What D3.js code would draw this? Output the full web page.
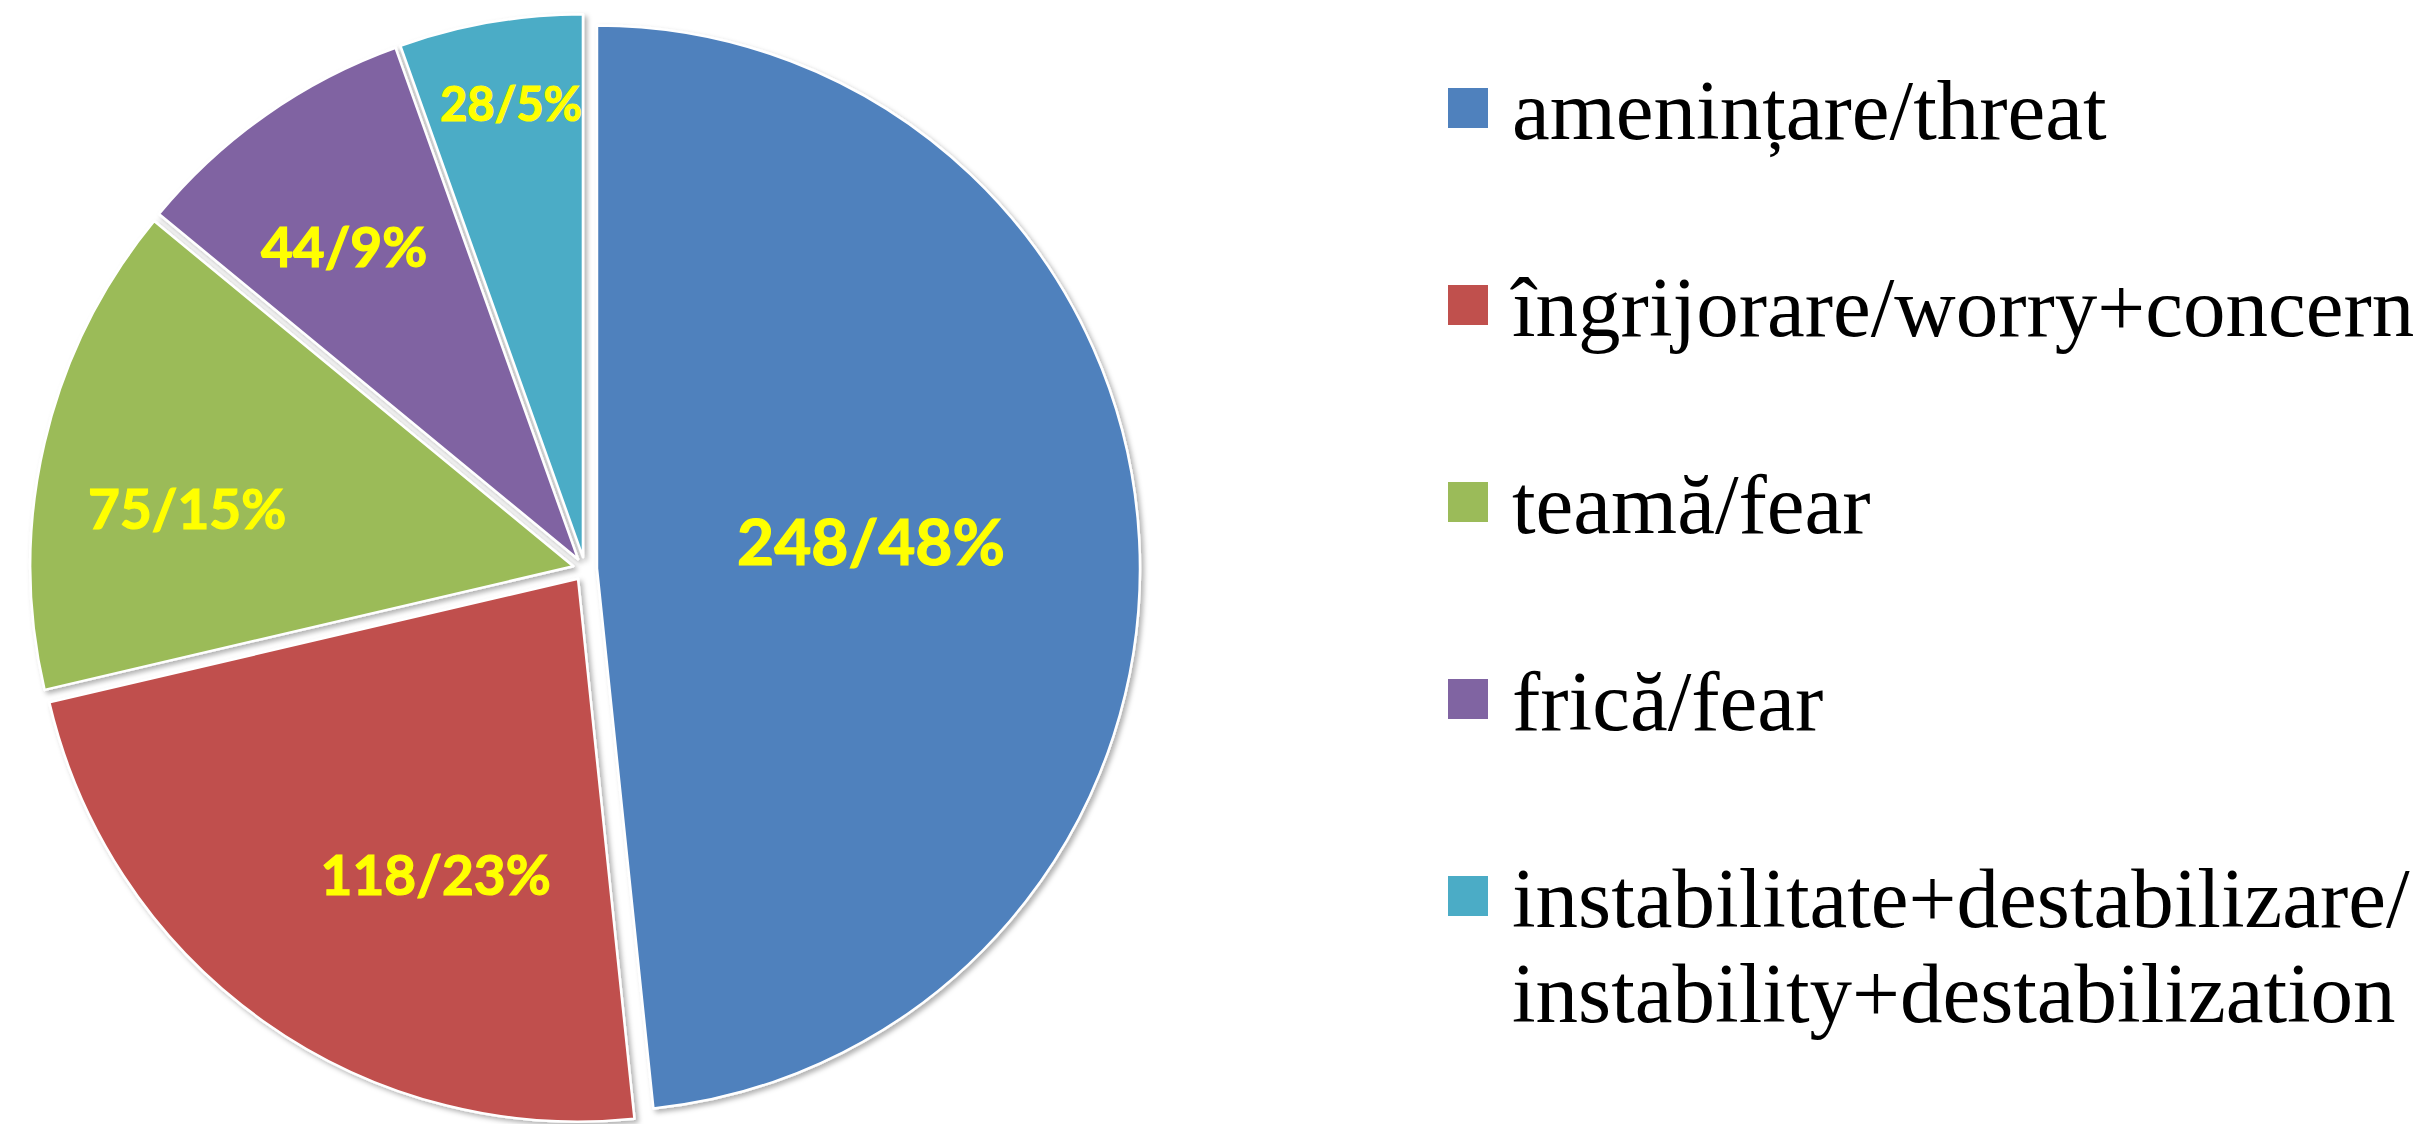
<!DOCTYPE html>
<meta charset="utf-8">
<script src="https://d3js.org/d3.v7.min.js"></script>
<div id="chart"></div>
<style>
	body {
		margin: 0;
		padding: 0;
		background: #fff;
		overflow: hidden;
	}
</style>
<script>
	// chart values
	const categories = [
		"amenințare/threat",
		"îngrijorare/worry+concern",
		"teamă/fear",
		"frică/fear",
		"instabilitate+destabilizare/\ninstability+destabilization"
	];
	const counts = [248, 118, 75, 44, 28];
	const percents = [48, 23, 15, 9, 5];
	const colors = ["#4F81BD", "#C0504D", "#9BBB59", "#8064A2", "#4BACC6"];

	const WIDTH = 2424;
	const HEIGHT = 1124;
	const cx = 585, cy = 569, R = 543;
	const explode = 12;

	// where the data labels sit inside each slice (radius fraction, angle nudge in degrees, font size)
	const labelFrac = [0.507, 0.606, 0.719, 0.718, 0.845];
	const labelNudge = [-2.6, -9.8, -4.7, -1.8, 0.8];
	const labelSize = [64, 55, 55, 55, 47];

	const data = categories.map((c, i) => ({ name: c, count: counts[i], pct: percents[i], color: colors[i] }));

	const svg = d3.select("#chart")
		.append("svg")
		.attr("width", WIDTH)
		.attr("height", HEIGHT);

	const defs = svg.append("defs");
	defs.append("filter")
		.attr("id", "shadow")
		.attr("x", "-10%").attr("y", "-10%")
		.attr("width", "130%").attr("height", "130%")
		.append("feDropShadow")
		.attr("dx", 3).attr("dy", 3)
		.attr("stdDeviation", 2.5)
		.attr("flood-color", "#000")
		.attr("flood-opacity", 0.3);

	const pie = d3.pie().sort(null).value(d => d.count);
	const arc = d3.arc().innerRadius(0).outerRadius(R);
	const arcs = pie(data);

	const mid = d => (d.startAngle + d.endAngle) / 2;

	const slices = svg.append("g")
		.attr("transform", `translate(${cx},${cy})`)
		.selectAll("g")
		.data(arcs)
		.join("g")
		.attr("transform", d => `translate(${explode * Math.sin(mid(d))},${-explode * Math.cos(mid(d))})`);

	slices.append("path")
		.attr("d", arc)
		.attr("fill", d => d.data.color)
		.attr("stroke", "#fff")
		.attr("stroke-width", 2.5)
		.attr("stroke-linejoin", "round")
		.attr("filter", "url(#shadow)");

	slices.append("text")
		.attr("transform", (d, i) => {
			const a = mid(d) + labelNudge[i] * Math.PI / 180;
			const r = R * labelFrac[i];
			return `translate(${r * Math.sin(a)},${-r * Math.cos(a)})`;
		})
		.attr("text-anchor", "middle")
		.attr("dy", "0.36em")
		.style("font-family", "Lato, 'Open Sans', sans-serif")
		.style("font-weight", "bold")
		.style("font-size", (d, i) => labelSize[i] + "px")
		.style("fill", "#FFFF00")
		.style("stroke", "#FFFF00")
		.style("stroke-width", 1.2)
		.text(d => `${d.data.count}/${d.data.pct}%`);

	// legend
	const legend = svg.append("g")
		.attr("transform", "translate(1448,88)")
		.selectAll("g")
		.data(data)
		.join("g")
		.attr("transform", (d, i) => `translate(0,${i * 197})`);

	legend.append("rect")
		.attr("width", 40)
		.attr("height", 40)
		.attr("fill", d => d.color);

	legend.append("text")
		.attr("x", 64)
		.attr("y", 51)
		.style("font-family", "'Liberation Serif', 'Times New Roman', serif")
		.style("font-size", "85px")
		.style("fill", "#000")
		.selectAll("tspan")
		.data(d => d.name.split("\n"))
		.join("tspan")
		.attr("x", 64)
		.attr("dy", (d, i) => i === 0 ? 0 : 95)
		.text(d => d);
</script>
